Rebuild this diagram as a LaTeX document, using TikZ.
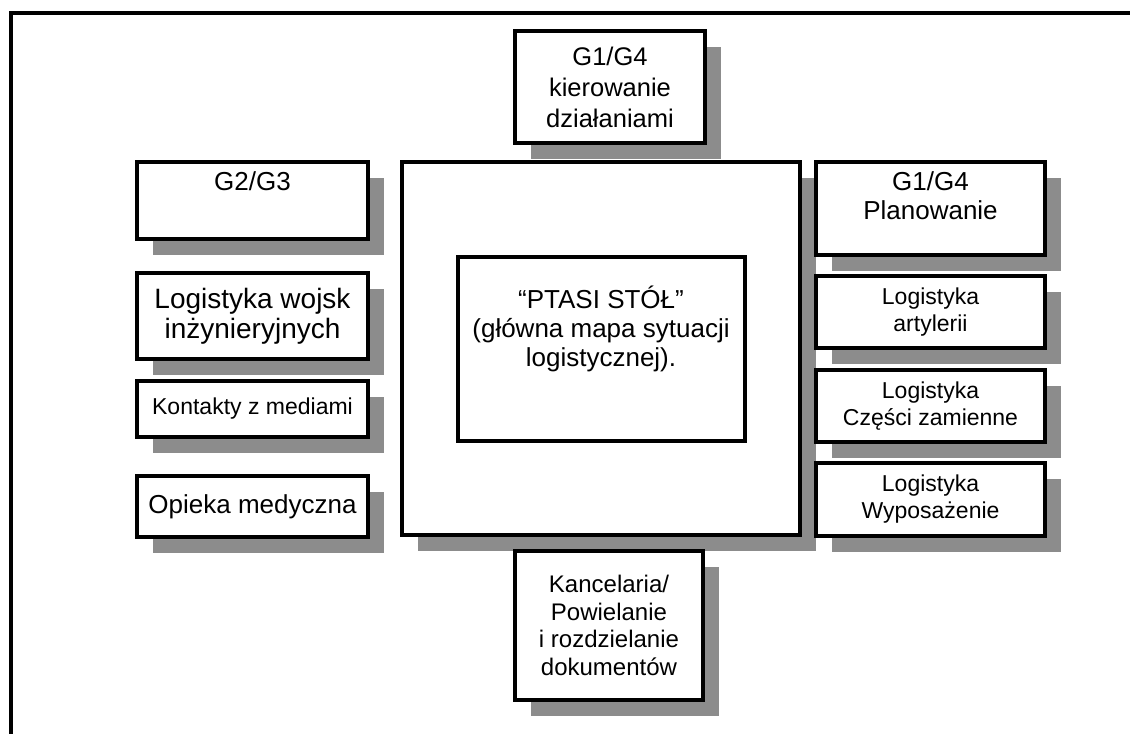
\documentclass[tikz,border=0pt]{standalone}
\usepackage{fontspec}
\setmainfont{Liberation Sans}
\usetikzlibrary{positioning, shadows}

\begin{document}
\begin{tikzpicture}[x=1pt, y=-1pt,
		cell/.style={rectangle, draw, line width=4pt, fill=white, inner sep=0pt, outer sep=0pt, align=center,
			drop shadow={shadow xshift=16pt, shadow yshift=-16pt, fill=black!45, opacity=1}},
		leftcell/.style={cell, minimum width=231pt},
		rightcell/.style={cell, minimum width=229pt, font=\fontsize{23}{27}\selectfont},
		plain/.style={rectangle, draw, line width=4pt, fill=white, inner sep=0pt, outer sep=0pt, align=center},
		textb/.style={align=center, inner sep=0pt},
		big/.style={font=\fontsize{26}{29}\selectfont},
		small/.style={font=\fontsize{23}{27}\selectfont}
	]
	\useasboundingbox (0,0) rectangle (1130,734);

	\draw[line width=4pt] (1130,13) -- (11,13) -- (11,734);

	\node[cell, minimum width=398pt, minimum height=373pt] (stol) at (601,348.5) {};
	\node[plain, minimum width=287pt, minimum height=184pt] (mapa) at (stol) {};
	\node[textb, big, yshift=20pt] (mapat) at (mapa) {\char"201C PTASI STÓŁ\char"201D\\(główna mapa sytuacji\\logistycznej).};
	\node[cell, minimum width=190pt, minimum height=112pt, font=\fontsize{25.5}{31}\selectfont, above=19pt of stol, xshift=9pt] (kier) {G1/G4\\kierowanie\\działaniami};
	\node[cell, minimum width=188pt, minimum height=149pt, font=\fontsize{24}{27.5}\selectfont, below=16pt of stol, xshift=8pt] (kanc) {Kancelaria/\\Powielanie\\i rozdzielanie\\dokumentów};

	\node[leftcell, minimum height=77pt, below left=0pt and 34pt of stol.north west] (g23) {};
	\node[textb, big, below=9pt of g23.north] (g23t) {G2/G3};
	\node[leftcell, minimum height=86pt, font=\fontsize{28}{30}\selectfont, below=34pt of g23] (wojsk) {Logistyka wojsk\\inżynieryjnych};
	\node[leftcell, minimum height=56pt, small, below=22pt of wojsk] (media) {Kontakty z mediami};
	\node[leftcell, minimum height=61pt, big, below=39pt of media] (med) {Opieka medyczna};

	\node[rightcell, minimum height=93pt, below right=0pt and 16pt of stol.north east] (plan) {};
	\node[textb, big, below=9pt of plan.north] (plant) {G1/G4\\Planowanie};
	\node[rightcell, minimum height=72pt, below=21pt of plan] (art) {Logistyka\\artylerii};
	\node[rightcell, minimum height=72pt, below=22pt of art] (czesci) {Logistyka\\Części zamienne};
	\node[rightcell, minimum height=73pt, below=21pt of czesci] (wyp) {Logistyka\\Wyposażenie};

\end{tikzpicture}
\end{document}
